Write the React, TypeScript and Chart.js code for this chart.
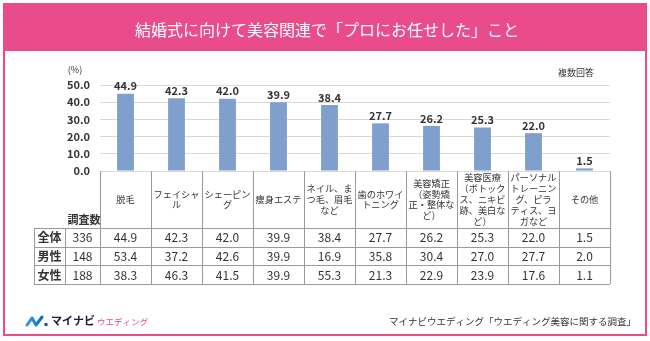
import React, { useEffect, useRef } from "react";
import { Chart, registerables } from "chart.js";

Chart.register(...registerables);

const titleText = "結婚式に向けて美容関連で「プロにお任せした」こと";
const categories = [
  ["脱毛"],
  ["フェイシャ", "ル"],
  ["シェーピン", "グ"],
  ["痩身エステ"],
  ["ネイル、ま", "つ毛、眉毛", "など"],
  ["歯のホワイ", "トニング"],
  ["美容矯正", "（姿勢矯", "正・整体な", "ど）"],
  ["美容医療", "（ボトック", "ス、ニキビ", "跡、美白な", "ど）"],
  ["パーソナル", "トレーニン", "グ、ピラ", "ティス、ヨ", "ガなど"],
  ["その他"],
];
const totalValues = [44.9, 42.3, 42.0, 39.9, 38.4, 27.7, 26.2, 25.3, 22.0, 1.5];
const maleValues = [53.4, 37.2, 42.6, 39.9, 16.9, 35.8, 30.4, 27.0, 27.7, 2.0];
const femaleValues = [38.3, 46.3, 41.5, 39.9, 55.3, 21.3, 22.9, 23.9, 17.6, 1.1];
const rowLabels = ["全体", "男性", "女性"];
const sampleSizes = [336, 148, 188];
const yTicks = [0, 10, 20, 30, 40, 50];

const FONT = '"Noto Sans CJK JP", "Noto Sans", sans-serif';
const PINK = "#E94B8B";
const TEXT = "#333333";

export default function App() {
  const ref = useRef<HTMLCanvasElement>(null);

  useEffect(() => {
    if (!ref.current) return;

    const framePlugin = {
      id: "frame",
      beforeDraw(chart: any) {
        const c = chart.ctx;
        c.save();
        c.fillStyle = "#ffffff";
        c.fillRect(0, 0, 650, 341);
        c.fillStyle = PINK;
        c.fillRect(3, 3, 644, 48);
        c.strokeStyle = PINK;
        c.lineWidth = 2;
        c.strokeRect(4, 4, 642, 331);
        c.fillStyle = "#ffffff";
        c.font = `16px ${FONT}`;
        c.textAlign = "center";
        c.textBaseline = "middle";
        c.fillText(titleText, 327, 30);
        c.fillStyle = TEXT;
        c.font = `9px ${FONT}`;
        c.fillText("(%)", 75, 70);
        c.fillText("複数回答", 576, 73);
        c.restore();
      },
      afterDraw(chart: any) {
        const c = chart.ctx;
        const xs = chart.scales.x;
        const area = chart.chartArea;
        const colW = (area.right - area.left) / categories.length;
        const top = area.bottom;
        const rowTop = 228;
        const rowH = 18.7;
        const bottom = rowTop + rowH * 3;
        c.save();

        // value labels above bars
        const meta = chart.getDatasetMeta(0);
        c.fillStyle = TEXT;
        c.font = `bold 11px ${FONT}`;
        c.textAlign = "center";
        c.textBaseline = "bottom";
        meta.data.forEach((bar: any, i: number) => {
          c.fillText(totalValues[i].toFixed(1), bar.x, bar.y - 2);
        });

        // table lines
        c.strokeStyle = "#9a9a9a";
        c.lineWidth = 1;
        c.beginPath();
        for (let i = 0; i <= categories.length; i++) {
          const x = Math.round(area.left + colW * i) + 0.5;
          c.moveTo(x, top);
          c.lineTo(x, bottom);
        }
        [34, 65].forEach((x) => {
          c.moveTo(x + 0.5, rowTop);
          c.lineTo(x + 0.5, bottom);
        });
        for (let r = 0; r <= 3; r++) {
          const y = Math.round(rowTop + rowH * r) + 0.5;
          c.moveTo(34, y);
          c.lineTo(area.right, y);
        }
        c.stroke();

        // header labels
        c.fillStyle = TEXT;
        c.font = `9.2px ${FONT}`;
        c.textBaseline = "middle";
        const lh = 10.8;
        categories.forEach((lines, i) => {
          const cx = xs.getPixelForValue(i);
          const mid = (top + rowTop) / 2;
          const y0 = mid - ((lines.length - 1) * lh) / 2;
          lines.forEach((ln, k) => c.fillText(ln, cx, y0 + k * lh));
        });

        c.font = `bold 11px ${FONT}`;
        c.fillText("調査数", 84, 220);

        const rows = [totalValues, maleValues, femaleValues];
        rows.forEach((vals, r) => {
          const cy = rowTop + rowH * r + rowH / 2 + 0.5;
          c.font = `bold 12px ${FONT}`;
          c.fillText(rowLabels[r], 49.5, cy);
          c.font = `12px ${FONT}`;
          c.fillText(String(sampleSizes[r]), 82.5, cy);
          vals.forEach((v, i) => {
            c.fillText(v.toFixed(1), xs.getPixelForValue(i), cy);
          });
        });

        // footer logo
        const grad = c.createLinearGradient(25, 0, 48, 0);
        grad.addColorStop(0, "#2aa0e6");
        grad.addColorStop(1, "#1456b0");
        c.strokeStyle = grad;
        c.lineWidth = 3;
        c.lineJoin = "round";
        c.lineCap = "round";
        c.beginPath();
        c.moveTo(27, 325);
        c.lineTo(32, 318);
        c.lineTo(36, 325);
        c.lineTo(42, 317);
        c.stroke();
        c.fillStyle = "#1456b0";
        c.beginPath();
        c.arc(46, 324.5, 1.8, 0, Math.PI * 2);
        c.fill();

        c.textAlign = "left";
        c.fillStyle = "#1b1b3a";
        c.font = `bold 11px ${FONT}`;
        c.fillText("マイナビ", 51, 321);
        c.fillStyle = PINK;
        c.font = `8.5px ${FONT}`;
        c.fillText("ウエディング", 97, 322);

        c.textAlign = "right";
        c.fillStyle = TEXT;
        c.font = `9.5px ${FONT}`;
        c.fillText("マイナビウエディング「ウエディング美容に関する調査」", 636, 321);
        c.restore();
      },
    };

    const chart = new Chart(ref.current, {
      type: "bar",
      data: {
        labels: categories.map((l) => l.join("")),
        datasets: [
          {
            data: totalValues,
            backgroundColor: "#7F9FCC",
            barPercentage: 0.33,
            categoryPercentage: 1,
          },
        ],
      },
      options: {
        responsive: false,
        animation: false,
        layout: { padding: { left: 0, right: 40, top: 85, bottom: 170 } },
        plugins: { legend: { display: false }, tooltip: { enabled: false } },
        scales: {
          x: { display: false },
          y: {
            min: 0,
            max: 50,
            afterBuildTicks: (s: any) => {
              s.ticks = yTicks.map((v) => ({ value: v }));
            },
            afterFit: (s: any) => {
              s.width = 100;
            },
            ticks: {
              color: TEXT,
              font: { family: FONT, size: 11, weight: "bold" },
              padding: 10,
              callback: (v: any) => Number(v).toFixed(1),
            },
            grid: { color: "#d9d9d9", drawTicks: false },
            border: { display: false },
          },
        },
      },
      plugins: [framePlugin],
    });
    return () => chart.destroy();
  }, []);

  return (
    <div style={{ position: "fixed", left: 0, top: 0, width: 650, height: 341 }}>
      <canvas ref={ref} width={650} height={341} style={{ display: "block" }} />
    </div>
  );
}
